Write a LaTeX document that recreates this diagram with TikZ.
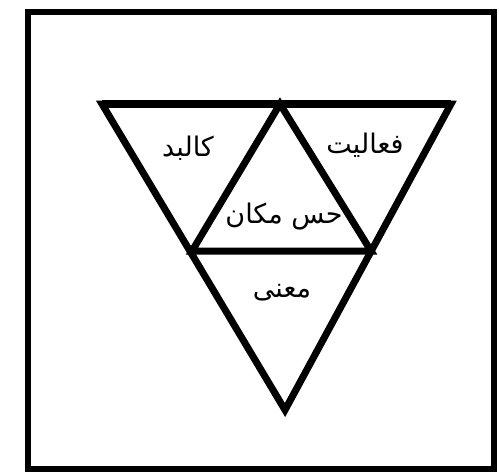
\documentclass[tikz,border=0pt]{standalone}
\usepackage{fontspec}
\TeXXeTstate=1
\newfontfamily\arabicfont[Script=Arabic]{DejaVu Sans}
\begin{document}
\begin{tikzpicture}[x=1pt,y=-1pt,
  frame/.style={line width=6pt},
  tri/.style={line width=7pt,line join=miter},
  lbl/.style={font=\arabicfont\fontsize{27}{30}\selectfont,inner sep=0pt}]
\useasboundingbox (0,0) rectangle (499,475);
\coordinate (TL) at (102,104);
\coordinate (TR) at (451,104);
\coordinate (TM) at (280,104);
\coordinate (B) at (285,410);
\coordinate (ML) at (192,251);
\coordinate (MR) at (371,251);
\draw[frame] (28,12) rectangle (494,469);
\draw[tri] (TL) -- (TR) -- (B) -- cycle;
\draw[line width=8pt] (TL) -- (TR);
\draw[tri] (ML) -- (TM) -- (MR) -- cycle;
\node[lbl] (kalbad) at (188,148) {\beginR کالبد\endR};
\node[lbl] (faaliat) at (365,145) {\beginR فعالیت\endR};
\node[lbl] (hess) at (284,217) {\beginR حس مکان\endR};
\node[lbl] (mana) at (282,293) {\beginR معنی\endR};
\end{tikzpicture}
\end{document}
